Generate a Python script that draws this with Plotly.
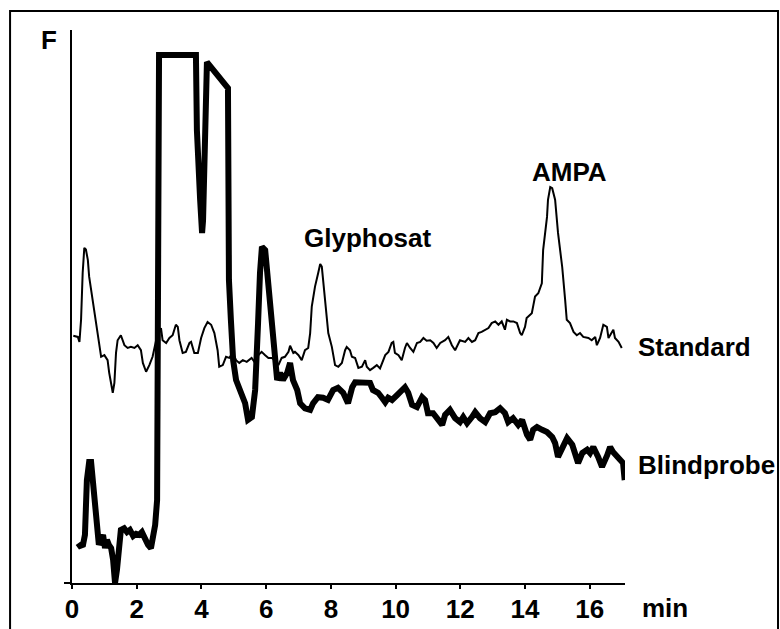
import plotly.graph_objects as go

# Standard (thin trace): retention time (min) and fluorescence (arbitrary units)
std_t = [0.04, 0.18, 0.23, 0.28, 0.33, 0.38, 0.43, 0.49, 0.53, 0.59, 0.69, 0.79, 0.84, 0.90, 1.00, 1.10, 1.15, 1.26, 1.31, 1.36,
         1.41, 1.51, 1.62, 1.72, 1.82, 1.93, 2.03, 2.13, 2.19, 2.29, 2.39, 2.49, 2.60, 2.75, 2.80, 2.91, 3.01, 3.11, 3.21, 3.27,
         3.32, 3.42, 3.52, 3.63, 3.68, 3.78, 3.89, 3.99, 4.09, 4.19, 4.30, 4.40, 4.50, 4.55, 4.66, 4.76, 4.86, 4.97, 5.07, 5.17,
         5.28, 5.40, 5.55, 5.66, 5.76, 5.86, 5.97, 6.07, 6.17, 6.28, 6.38, 6.48, 6.58, 6.69, 6.74, 6.84, 6.89, 7.00, 7.10, 7.20,
         7.30, 7.36, 7.41, 7.51, 7.61, 7.67, 7.72, 7.77, 7.82, 7.92, 8.03, 8.13, 8.23, 8.34, 8.44, 8.49, 8.59, 8.65, 8.75, 8.85,
         8.96, 9.06, 9.11, 9.21, 9.31, 9.42, 9.52, 9.62, 9.68, 9.78, 9.88, 9.93, 9.98, 10.09, 10.19, 10.29, 10.35, 10.45, 10.55, 10.66,
         10.76, 10.86, 10.96, 11.07, 11.17, 11.27, 11.38, 11.53, 11.63, 11.74, 11.84, 11.99, 12.15, 12.25, 12.36, 12.46, 12.56, 12.66, 12.77, 12.87,
         12.97, 13.08, 13.18, 13.28, 13.38, 13.44, 13.54, 13.64, 13.75, 13.85, 13.90, 14.00, 14.05, 14.21, 14.26, 14.31, 14.41, 14.52, 14.56, 14.68,
         14.71, 14.78, 14.84, 14.93, 15.02, 15.15, 15.24, 15.29, 15.39, 15.50, 15.60, 15.70, 15.80, 15.96, 16.06, 16.17, 16.22, 16.32, 16.42, 16.53,
         16.58, 16.68, 16.73, 16.78, 16.89, 16.99]
std_f = [44.7, 44.5, 43.6, 47.6, 56.1, 60.6, 60.3, 58.4, 55.4, 53.0, 49.4, 45.2, 42.7, 40.9, 41.2, 40.3, 38.0, 34.4, 36.2, 41.6,
         43.9, 44.8, 43.0, 42.5, 42.7, 42.5, 43.0, 42.1, 39.8, 38.2, 39.4, 40.9, 43.9, 46.1, 43.9, 43.4, 44.3, 44.8, 46.7, 46.3,
         43.9, 41.6, 41.8, 43.4, 43.6, 41.6, 41.6, 44.3, 46.1, 47.2, 46.7, 45.2, 42.1, 39.1, 39.4, 40.9, 40.7, 41.6, 40.3, 39.8,
         40.3, 40.0, 40.7, 39.8, 41.2, 41.8, 41.2, 40.7, 40.7, 40.3, 39.4, 40.7, 40.9, 41.8, 42.9, 41.6, 41.8, 41.2, 40.3, 42.1,
         42.5, 45.2, 50.0, 53.6, 56.1, 57.7, 57.2, 54.2, 50.0, 45.2, 42.7, 39.4, 39.1, 39.8, 42.1, 42.7, 42.1, 40.9, 40.7, 38.9,
         39.1, 40.3, 39.1, 38.5, 38.9, 39.4, 38.8, 40.3, 41.2, 41.8, 43.4, 43.6, 41.6, 41.2, 40.3, 42.5, 43.4, 42.5, 41.8, 43.4,
         43.6, 44.3, 43.8, 43.9, 43.4, 42.5, 43.4, 43.9, 44.5, 43.0, 42.1, 43.9, 43.6, 44.3, 43.6, 43.9, 45.2, 45.4, 45.8, 46.1,
         47.0, 47.3, 46.7, 47.3, 45.8, 47.6, 47.3, 47.3, 47.0, 45.2, 44.8, 46.3, 47.9, 48.8, 50.3, 51.8, 52.4, 54.2, 60.2, 66.2,
         69.3, 71.6, 71.4, 69.3, 63.3, 57.1, 51.2, 47.6, 47.0, 45.4, 44.8, 45.2, 44.5, 44.3, 43.9, 44.5, 43.0, 44.3, 46.7, 46.3,
         44.3, 45.4, 45.8, 44.3, 43.6, 42.5]

# Blindprobe (thick trace)
blk_t = [0.19, 0.25, 0.34, 0.40, 0.46, 0.53, 0.59, 0.65, 0.71, 0.77, 0.83, 0.90, 0.96, 1.02, 1.08, 1.14, 1.21, 1.27, 1.33, 1.39,
         1.45, 1.51, 1.61, 1.70, 1.79, 1.89, 1.98, 2.07, 2.16, 2.26, 2.35, 2.44, 2.50, 2.57, 2.63, 2.66, 2.69, 3.83, 3.83, 3.86,
         3.96, 4.02, 4.05, 4.11, 4.17, 4.82, 4.82, 4.85, 4.91, 4.98, 5.07, 5.19, 5.35, 5.44, 5.56, 5.66, 5.72, 5.75, 5.81, 5.87,
         5.97, 6.06, 6.18, 6.28, 6.34, 6.43, 6.52, 6.65, 6.74, 6.83, 6.96, 7.05, 7.20, 7.36, 7.45, 7.60, 7.76, 7.91, 8.07, 8.22,
         8.38, 8.53, 8.66, 8.75, 8.90, 9.06, 9.21, 9.30, 9.46, 9.58, 9.68, 9.77, 9.89, 10.05, 10.20, 10.29, 10.39, 10.51, 10.66, 10.82,
         10.91, 11.00, 11.16, 11.31, 11.44, 11.53, 11.68, 11.84, 11.99, 12.09, 12.21, 12.36, 12.46, 12.61, 12.77, 12.92, 13.08, 13.23, 13.38, 13.48,
         13.63, 13.79, 13.91, 14.06, 14.16, 14.25, 14.37, 14.53, 14.68, 14.84, 14.93, 15.02, 15.15, 15.30, 15.46, 15.55, 15.64, 15.77, 15.92, 16.01,
         16.11, 16.26, 16.38, 16.54, 16.63, 16.72, 16.85, 16.94, 17.03, 17.08]
blk_f = [7.2, 6.7, 6.9, 8.7, 18.6, 21.9, 21.9, 18.6, 13.2, 11.4, 6.9, 7.8, 8.7, 6.3, 7.8, 6.9, 6.3, 4.2, 0.0, 2.4,
         6.9, 9.6, 9.9, 9.2, 9.6, 8.5, 8.9, 8.7, 9.2, 7.8, 6.9, 6.3, 7.8, 10.5, 15.0, 51.2, 95.5, 95.5, 87.3, 81.9,
         69.3, 63.3, 65.6, 78.3, 94.2, 89.5, 69.3, 54.8, 47.6, 40.3, 36.7, 34.9, 32.5, 29.5, 30.0, 34.9, 40.9, 47.0, 56.1, 60.8,
         60.2, 54.8, 47.0, 40.9, 36.7, 38.0, 36.7, 38.0, 39.8, 36.7, 34.9, 32.5, 31.6, 31.3, 32.5, 33.6, 33.5, 33.1, 34.9, 35.3,
         34.4, 32.5, 35.4, 36.3, 36.2, 36.2, 36.2, 34.9, 34.4, 33.5, 32.7, 33.5, 33.1, 34.0, 34.9, 35.4, 34.4, 32.2, 31.8, 33.6,
         33.1, 30.7, 30.7, 29.5, 28.6, 30.4, 31.3, 29.8, 29.1, 30.0, 28.9, 30.0, 30.9, 29.8, 29.1, 30.7, 30.9, 31.6, 30.7, 29.1,
         29.8, 28.6, 29.5, 26.8, 25.9, 27.7, 28.2, 27.7, 27.3, 26.4, 25.3, 22.8, 24.4, 26.2, 25.0, 22.8, 21.7, 23.5, 24.1, 23.5,
         24.6, 22.8, 21.0, 23.1, 24.6, 23.7, 22.8, 22.2, 21.7, 18.6]

x_ticks = [0, 2, 4, 6, 8, 10, 12, 14, 16]
series_names = ["Standard", "Blindprobe"]
peak_labels = ["Glyphosat", "AMPA"]
peak_pos_t = [9.12, 15.39]
peak_pos_f = [62.4, 74.3]

FONT = "Liberation Sans, Arial, sans-serif"

fig = go.Figure()
fig.add_trace(go.Scatter(x=std_t, y=std_f, mode="lines", name=series_names[0],
                         line=dict(color="black", width=2)))
fig.add_trace(go.Scatter(x=blk_t, y=blk_f, mode="lines", name=series_names[1],
                         line=dict(color="black", width=6, shape="linear")))

big = dict(family=FONT, size=26, color="black", weight="bold")

for lbl, tx, fy in zip(peak_labels, peak_pos_t, peak_pos_f):
    fig.add_annotation(x=tx, y=fy, text=lbl, showarrow=False, font=big, xanchor="center", yanchor="middle")

fig.add_annotation(xref="paper", yref="paper", x=1.02, y=0.427, text=series_names[0], showarrow=False,
                   font=big, xanchor="left", yanchor="middle")
fig.add_annotation(xref="paper", yref="paper", x=1.02, y=0.213, text=series_names[1], showarrow=False,
                   font=big, xanchor="left", yanchor="middle")
fig.add_annotation(xref="paper", yref="paper", x=-0.0407, y=0.982, text="F", showarrow=False,
                   font=big, xanchor="center", yanchor="middle")
fig.add_annotation(xref="paper", yref="paper", x=1.072, y=-0.045, text="min", showarrow=False,
                   font=big, xanchor="center", yanchor="middle")

fig.add_shape(type="rect", xref="paper", yref="paper", x0=-0.112, x1=1.2767, y0=-0.13, y1=1.0344,
              line=dict(color="black", width=2), fillcolor="rgba(0,0,0,0)", layer="above")

fig.update_layout(
    width=780, height=629,
    margin=dict(l=72, r=155, t=30, b=46),
    paper_bgcolor="white", plot_bgcolor="white",
    showlegend=False,
    xaxis=dict(range=[0, 17.09], tickvals=x_ticks, ticks="outside", ticklen=4, tickwidth=1.5,
               tickcolor="black", showline=True, linecolor="black", linewidth=2, showgrid=False,
               zeroline=False, tickfont=big, fixedrange=True, automargin=False, ticklabelstandoff=-2),
    yaxis=dict(range=[0, 100], tickvals=[0], ticktext=[""], ticks="outside", ticklen=6, tickwidth=2,
               tickcolor="black", showline=True, linecolor="black", linewidth=1.5, showgrid=False,
               zeroline=False, fixedrange=True, automargin=False),
)

fig.write_html("out.html")
